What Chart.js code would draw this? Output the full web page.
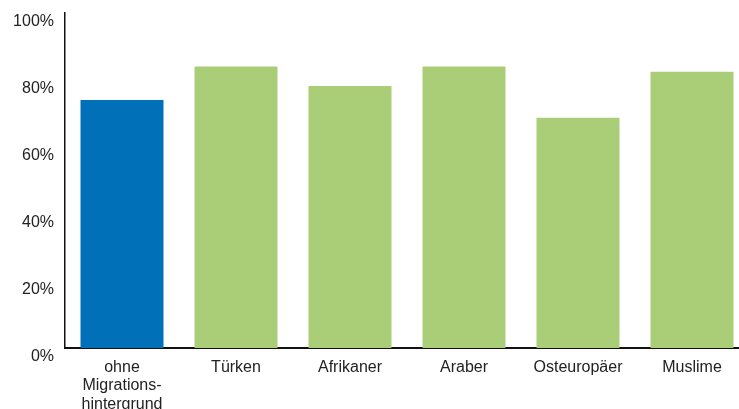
<!DOCTYPE html>
<html>
<head>
<meta charset="utf-8">
<script src="https://cdn.jsdelivr.net/npm/chart.js@4/dist/chart.umd.min.js"></script>
<style>
  html, body { margin: 0; padding: 0; background: #fff; overflow: hidden; }
  #wrap { width: 750px; height: 409px; }
</style>
</head>
<body>
<div id="wrap"><canvas id="barChart" width="750" height="409"></canvas></div>
<script>
// Anteile je Gruppe (in Prozent)
var groups = [['ohne', 'Migrations-', 'hintergrund'], 'Türken', 'Afrikaner', 'Araber', 'Osteuropäer', 'Muslime'];
var shares = [74, 84, 78.2, 84, 68.7, 82.5];
var barColors = ['#0070b8', '#aacd78', '#aacd78', '#aacd78', '#aacd78', '#aacd78'];
var yTicks = [0, 20, 40, 60, 80, 100];

var ctx = document.getElementById('barChart').getContext('2d');
new Chart(ctx, {
  type: 'bar',
  data: {
    labels: groups,
    datasets: [{
      data: shares,
      backgroundColor: barColors,
      borderWidth: 0,
      categoryPercentage: 1,
      barPercentage: 0.728
    }]
  },
  options: {
    responsive: false,
    animation: false,
    layout: { padding: { top: 13, right: 1, left: 0, bottom: 0 } },
    plugins: { legend: { display: false }, tooltip: { enabled: false } },
    scales: {
      x: {
        grid: { display: false, drawTicks: false },
        border: { display: true, color: '#111', width: 2 },
        ticks: {
          color: '#222',
          padding: 10,
          maxRotation: 0,
          autoSkip: false,
          font: { family: 'Liberation Sans, Arial, sans-serif', size: 16, lineHeight: 1.16 }
        },
        afterFit: function (scale) { scale.height = 61; }
      },
      y: {
        min: 0,
        max: 100,
        afterBuildTicks: function (scale) {
          scale.ticks = yTicks.map(function (v) { return { value: v }; });
        },
        grid: { display: false, drawTicks: false },
        border: { display: true, color: '#111', width: 1.5 },
        ticks: {
          color: '#222',
          padding: 11,
          labelOffset: 9,
          font: { family: 'Liberation Sans, Arial, sans-serif', size: 16 },
          callback: function (v) { return v + '%'; }
        },
        afterFit: function (scale) {
          scale.width = 65;
          // no extra room for the top tick label
          scale.paddingTop = 0;
          scale.paddingBottom = 0;
        }
      }
    }
  }
});
</script>
</body>
</html>
